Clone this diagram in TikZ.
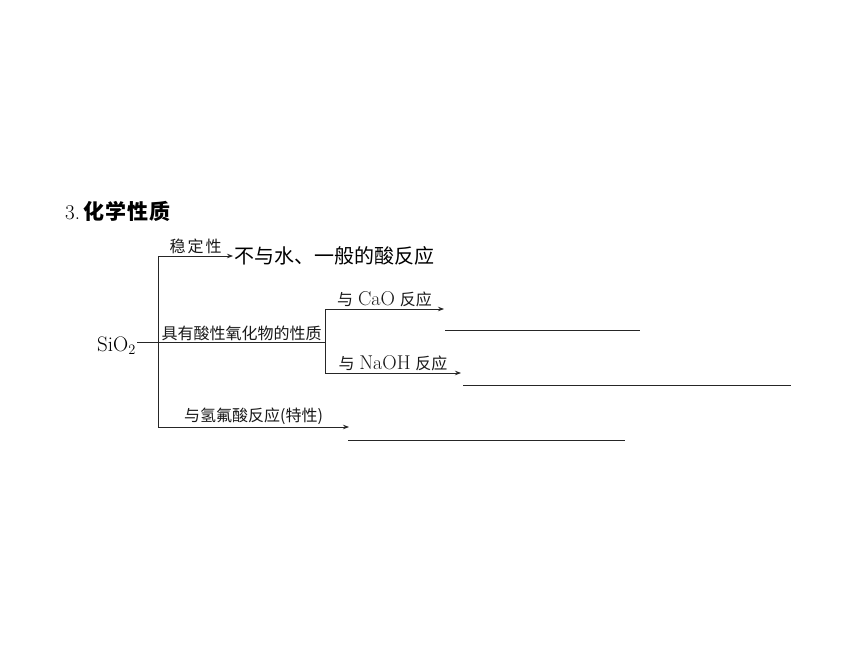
\documentclass[tikz,border=0pt]{standalone}
\usepackage{fontspec}
\newfontfamily\cjk{Noto Sans CJK SC}
\newcommand{\latin}[1]{{\fontsize{20}{22}\selectfont #1}}
\usetikzlibrary{arrows.meta}
\begin{document}
\begin{tikzpicture}[x=1pt, y=-1pt,
    branch/.style={-{Stealth[length=6pt,width=4.5pt]}, line width=0.8pt, black!85},
    stem/.style={line width=0.8pt, black!85},
    blank/.style={line width=0.9pt, black!85},
    lbl/.style={above, inner sep=2pt, text=black!90, font=\fontsize{16}{18}\selectfont}]
    % Canvas
    \useasboundingbox[fill=white] (0,0) rectangle (860,645);

    % Title
    \node[anchor=west, inner sep=0pt, font=\fontsize{21}{23}\selectfont] (title) at (65,211) {3.\,{\cjk\bfseries 化\kern1pt 学\kern1pt 性\kern1pt 质}};

    % Root
    \node[anchor=east, inner sep=1pt, font=\fontsize{21}{23}\selectfont] (sio) at (137,346) {SiO$_2$};
    \coordinate (root) at (158,342);
    \coordinate (top) at (158,256);
    \coordinate (bot) at (158,427);
    \draw[stem] (sio.east |- root) -- (root);
    \draw[stem] (top) -- (bot);

    % Stability
    \node[anchor=west, inner sep=1pt, font=\fontsize{20}{22}\selectfont\cjk] (stab) at (233,256) {不与水、一般的酸反应};
    \draw[branch] (top) -- node[lbl] {\cjk 稳\kern2pt 定\kern2pt 性} (stab.west);

    % Acidic oxide
    \coordinate (acid) at (325,342);
    \coordinate (cao) at (325,309);
    \coordinate (naoh) at (325,373);
    \draw[stem] (root) -- node[lbl, inner sep=0.5pt] {\cjk 具有酸性氧化物的性质} (acid);
    \draw[stem] (cao) -- (naoh);
    \coordinate (caoEnd) at (444,309);
    \coordinate (naohEnd) at (461,373);
    \draw[branch] (cao) -- node[lbl] {{\cjk 与} \latin{CaO} {\cjk 反应}} (caoEnd);
    \draw[branch] (naoh) -- node[lbl] {{\cjk 与} \latin{NaOH} {\cjk 反应}} (naohEnd);

    % Hydrofluoric acid
    \coordinate (hfEnd) at (349,427);
    \draw[branch] (bot) -- node[lbl] {\cjk 与氢氟酸反应(特性)} (hfEnd);

    % Answer blanks
    \coordinate (ansA) at (445,330);
    \coordinate (ansB) at (463,385);
    \coordinate (ansC) at (348,440);
    \draw[blank] (ansA) -- ++(195,0);
    \draw[blank] (ansB) -- ++(328,0);
    \draw[blank] (ansC) -- ++(277,0);
\end{tikzpicture}
\end{document}
